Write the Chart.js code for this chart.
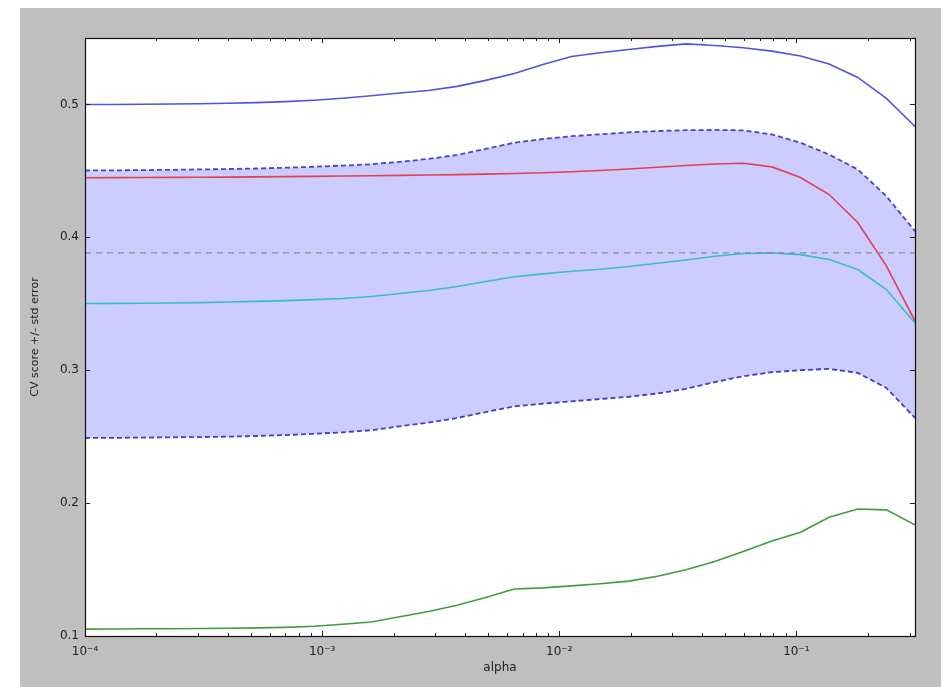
<!DOCTYPE html>
<html>
<head>
<meta charset="utf-8">
<script src="https://cdn.jsdelivr.net/npm/chart.js@4/dist/chart.umd.min.js"></script>
<style>
  html, body { margin: 0; padding: 0; background: #ffffff; }
  #wrap { position: absolute; left: 20px; top: 8px; width: 921px; height: 679px; background: #bfbfbf; }
</style>
</head>
<body>
<div id="wrap"><canvas id="c"></canvas></div>
<script>
// alpha values (x)
const alphas = [
  0.0001, 0.00013204, 0.00017433, 0.00023018, 0.00030392, 0.00040128,
  0.00052983, 0.00069956, 0.00092367, 0.0012196, 0.0016102, 0.0021261,
  0.0028072, 0.0037064, 0.0048938, 0.0064615, 0.0085315, 0.011265,
  0.014873, 0.019638, 0.025929, 0.034235, 0.045202, 0.059682,
  0.078802, 0.10405, 0.13738, 0.18139, 0.23949, 0.31623
];
// fold scores
const fold1 = [
  0.5000, 0.5000, 0.5002, 0.5003, 0.5005, 0.5009, 0.5014, 0.5021, 0.5032, 0.5047,
  0.5065, 0.5086, 0.5105, 0.5136, 0.5181, 0.5233, 0.5301, 0.5361, 0.5389, 0.5414,
  0.5437, 0.5456, 0.5444, 0.5427, 0.5401, 0.5364, 0.5305, 0.5203, 0.5045, 0.4834
];
const fold2 = [
  0.4448, 0.4449, 0.4450, 0.4451, 0.4452, 0.4453, 0.4455, 0.4457, 0.4459, 0.4461,
  0.4463, 0.4466, 0.4469, 0.4472, 0.4476, 0.4480, 0.4486, 0.4494, 0.4503, 0.4514,
  0.4527, 0.4540, 0.4552, 0.4558, 0.4530, 0.4450, 0.4322, 0.4112, 0.3785, 0.3370
];
const fold3 = [
  0.1052, 0.1053, 0.1054, 0.1055, 0.1056, 0.1058, 0.1061, 0.1065, 0.1073, 0.1088,
  0.1105, 0.1145, 0.1185, 0.1232, 0.1290, 0.1354, 0.1362, 0.1377, 0.1393, 0.1413,
  0.1450, 0.1498, 0.1560, 0.1635, 0.1715, 0.1781, 0.1894, 0.1956, 0.1949, 0.1836
];
// mean CV score
const meanScore = [
  0.3502, 0.3503, 0.3504, 0.3506, 0.3509, 0.3513, 0.3518, 0.3524, 0.3531, 0.3540,
  0.3555, 0.3577, 0.3600, 0.3630, 0.3668, 0.3703, 0.3725, 0.3745, 0.3760, 0.3780,
  0.3805, 0.3830, 0.3858, 0.3878, 0.3883, 0.3870, 0.3833, 0.3758, 0.3607, 0.3356
];
// mean + std error
const upperBand = [
  0.4503, 0.4504, 0.4506, 0.4508, 0.4511, 0.4514, 0.4518, 0.4524, 0.4531, 0.4540,
  0.4550, 0.4568, 0.4590, 0.4620, 0.4665, 0.4712, 0.4740, 0.4761, 0.4775, 0.4790,
  0.4800, 0.4806, 0.4808, 0.4805, 0.4774, 0.4712, 0.4623, 0.4511, 0.4310, 0.4046
];
// mean - std error
const lowerBand = [
  0.2490, 0.2491, 0.2493, 0.2495, 0.2497, 0.2500, 0.2505, 0.2512, 0.2521, 0.2533,
  0.2548, 0.2578, 0.2605, 0.2640, 0.2685, 0.2728, 0.2748, 0.2766, 0.2783, 0.2800,
  0.2825, 0.2860, 0.2910, 0.2955, 0.2985, 0.3000, 0.3010, 0.2980, 0.2867, 0.2641
];
const xTickValues = [0.0001, 0.001, 0.01, 0.1];
const xTickLabels = ['10\u207B\u2074', '10\u207B\u00B3', '10\u207B\u00B2', '10\u207B\u00B9'];
const yTickValues = [0.1, 0.2, 0.3, 0.4, 0.5];
const xTitle = 'alpha';
const yTitle = 'CV score +/- std error';

const bestScore = Math.max(...meanScore);
const pts = arr => arr.map((v, i) => ({ x: alphas[i], y: v }));

const frameAndTicks = {
  id: 'frameAndTicks',
  beforeDraw(chart) {
    const { ctx, chartArea: a } = chart;
    ctx.save();
    ctx.fillStyle = '#ffffff';
    ctx.fillRect(a.left, a.top, a.right - a.left, a.bottom - a.top);
    ctx.restore();
  },
  afterDraw(chart) {
    const { ctx, chartArea: a, scales } = chart;
    const xs = scales.x, ys = scales.y;
    ctx.save();
    ctx.strokeStyle = '#222222';
    ctx.lineWidth = 1;
    ctx.beginPath();
    const tick = (x1, y1, x2, y2) => { ctx.moveTo(x1, y1); ctx.lineTo(x2, y2); };
    xTickValues.forEach(v => {
      const p = Math.round(xs.getPixelForValue(v)) + 0.5;
      tick(p, a.bottom, p, a.bottom - 5);
      tick(p, a.top, p, a.top + 5);
    });
    for (let d = -4; d <= -1; d++) {
      for (let m = 2; m <= 9; m++) {
        const v = m * Math.pow(10, d);
        if (v > xs.max) continue;
        const p = Math.round(xs.getPixelForValue(v)) + 0.5;
        tick(p, a.bottom, p, a.bottom - 3);
        tick(p, a.top, p, a.top + 3);
      }
    }
    yTickValues.forEach(v => {
      const p = Math.round(ys.getPixelForValue(v)) + 0.5;
      tick(a.left, p, a.left + 5, p);
      tick(a.right, p, a.right - 5, p);
    });
    ctx.stroke();
    ctx.strokeStyle = '#111111';
    ctx.lineWidth = 1.2;
    ctx.strokeRect(Math.round(a.left) + 0.5, Math.round(a.top) + 0.5,
      Math.round(a.right - a.left), Math.round(a.bottom - a.top));
    ctx.restore();
  }
};

const solid = (data, color) => ({
  data: pts(data), borderColor: color, borderWidth: 1.6,
  pointRadius: 0, fill: false, tension: 0
});

new Chart(document.getElementById('c'), {
  type: 'line',
  data: {
    datasets: [
      { data: pts(upperBand), borderColor: '#4545cc', borderWidth: 1.8, borderDash: [5, 3],
        pointRadius: 0, tension: 0, fill: '+1', backgroundColor: 'rgba(0,0,255,0.2)', order: 5 },
      { data: pts(lowerBand), borderColor: '#4545cc', borderWidth: 1.8, borderDash: [5, 3],
        pointRadius: 0, tension: 0, fill: false, order: 5 },
      { ...solid(fold1, '#5252dc'), order: 2 },
      { ...solid(fold2, '#e2404e'), order: 2 },
      { ...solid(fold3, '#3f9d3f'), order: 2 },
      { ...solid(meanScore, '#38bcd0'), order: 1 },
      { data: [{ x: alphas[0], y: bestScore }, { x: alphas[alphas.length - 1], y: bestScore }],
        borderColor: '#8a8a8a', borderWidth: 1.4, borderDash: [6, 5],
        pointRadius: 0, fill: false, order: 0 }
    ]
  },
  options: {
    responsive: true,
    maintainAspectRatio: false,
    animation: false,
    layout: { padding: { top: 30, right: 26, bottom: 8, left: 0 } },
    plugins: { legend: { display: false }, tooltip: { enabled: false } },
    scales: {
      x: {
        type: 'logarithmic',
        min: alphas[0],
        max: alphas[alphas.length - 1],
        grid: { display: false, drawTicks: false },
        border: { display: false },
        afterBuildTicks: s => { s.ticks = xTickValues.map(v => ({ value: v })); },
        afterFit: s => { s.height = 43; },
        ticks: {
          autoSkip: false, maxRotation: 0, padding: 9,
          color: '#222', font: { family: 'DejaVu Sans', size: 12 },
          callback: (v) => { const i = xTickValues.findIndex(t => Math.abs(t - v) / t < 1e-6); return i >= 0 ? xTickLabels[i] : ''; }
        },
        title: { display: true, text: xTitle, color: '#222', font: { family: 'DejaVu Sans', size: 12 }, padding: { top: 0, bottom: 4 } }
      },
      y: {
        type: 'linear',
        min: 0.1,
        max: 0.55,
        grid: { display: false, drawTicks: false },
        border: { display: false },
        afterBuildTicks: s => { s.ticks = yTickValues.map(v => ({ value: v })); },
        afterFit: s => { s.width = 65; },
        ticks: {
          padding: 6, color: '#222', font: { family: 'DejaVu Sans', size: 12 },
          callback: v => v.toFixed(1)
        },
        title: { display: true, text: yTitle, color: '#222', font: { family: 'DejaVu Sans', size: 11 }, padding: { top: 9, bottom: 0 } }
      }
    }
  },
  plugins: [frameAndTicks]
});
</script>
</body>
</html>
